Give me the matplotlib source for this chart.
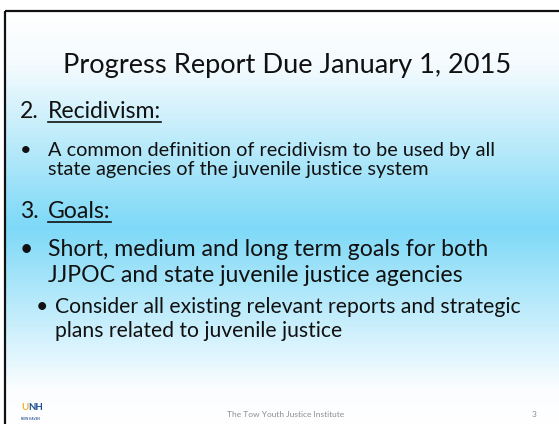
import numpy as np
import matplotlib
matplotlib.use("Agg")
import matplotlib.pyplot as plt
from matplotlib.colors import to_rgb

W, H = 559, 424
FONT = "Lato"

title = "Progress Report Due January 1, 2015"

# numbered headings: (number, word, baseline y)
numbered = [("2.", "Recidivism:", 118), ("3.", "Goals:", 218)]
bullet1 = ["A common definition of recidivism to be used by all",
           "state agencies of the juvenile justice system"]
bullet1_y = [156, 175]
bullet2 = ["Short, medium and long term goals for both",
           "JJPOC and state juvenile justice agencies"]
bullet2_y = [256, 282]
sub_bullet = ["Consider all existing relevant reports and strategic",
              "plans related to juvenile justice"]
sub_bullet_y = [313, 337]

footer = "The Tow Youth Justice Institute"
page_no = "3"

# background gradient stops (y pixel, colour)
grad_y = [0, 56, 222, 388, 424]
grad_c = ["#ffffff", "#f4fbfe", "#7dd9f7", "#fbfdff", "#ffffff"]

fig = plt.figure(figsize=(W / 100, H / 100), dpi=100)
ax = fig.add_axes([0, 0, 1, 1])
ax.set_xlim(0, W)
ax.set_ylim(H, 0)
ax.axis("off")

rows = np.arange(H) + 0.5
cols = np.array([to_rgb(c) for c in grad_c])
grad = np.stack([np.interp(rows, grad_y, cols[:, k]) for k in range(3)], axis=1)
img = np.repeat(grad[:, None, :], 2, axis=1)
ax.imshow(img, extent=(5, W, H, 11), aspect="auto", zorder=0, interpolation="bilinear")

# slide border (top and left)
ax.plot([4.5, W], [11, 11], color="#111111", lw=1.6, solid_capstyle="butt", zorder=3)
ax.plot([4.5, 4.5], [11, H], color="#111111", lw=1.6, solid_capstyle="butt", zorder=3)

renderer = fig.canvas.get_renderer()


def fit_size(text, width, start=20):
    t = ax.text(0, 0, text, fontsize=start, family=FONT)
    w = t.get_window_extent(renderer).width
    t.remove()
    return start * width / w


def put(x, y, s, size, **kw):
    return ax.text(x, y, s, fontsize=size, family=FONT, va="baseline", ha=kw.pop("ha", "left"),
                   color=kw.pop("color", "#111111"), zorder=4, **kw)


def data_box(t):
    return t.get_window_extent(renderer).transformed(ax.transData.inverted())


# title
ts = fit_size(title, 451)
put(287.5, 73, title, ts, ha="center")

s_big = fit_size(bullet2[0], 439)
s_small = fit_size(bullet1[0], 449)
s_sub = fit_size(sub_bullet[0], 465)

for num, word, y in numbered:
    put(20, y, num, s_big)
    t = put(48, y, word, s_big)
    bb = data_box(t)
    ax.plot([bb.x0, bb.x1], [y + 4, y + 4], color="#111111", lw=1.2, zorder=4)

put(20, bullet1_y[0], "\u2022", s_small)
for s, y in zip(bullet1, bullet1_y):
    put(48, y, s, s_small)

put(20, bullet2_y[0], "\u2022", s_big)
for s, y in zip(bullet2, bullet2_y):
    put(48, y, s, s_big)

put(36, sub_bullet_y[0], "\u2022", s_sub)
for s, y in zip(sub_bullet, sub_bullet_y):
    put(55, y, s, s_sub)

# footer
put(286, 417, footer, 6, ha="center", color="#8c8c8c")
put(534, 417, page_no, 6, ha="center", color="#8c8c8c")

# UNH logo (approximate)
u = put(21, 410, "U", 7, color="#f2b01e", weight="bold")
put(data_box(u).x1 + 0.3, 410, "NH", 7, color="#1f4e96", weight="bold")
put(21, 419.5, "NEW HAVEN", 2.2, color="#1f4e96", weight="bold")

fig.savefig("out.png", dpi=100)
